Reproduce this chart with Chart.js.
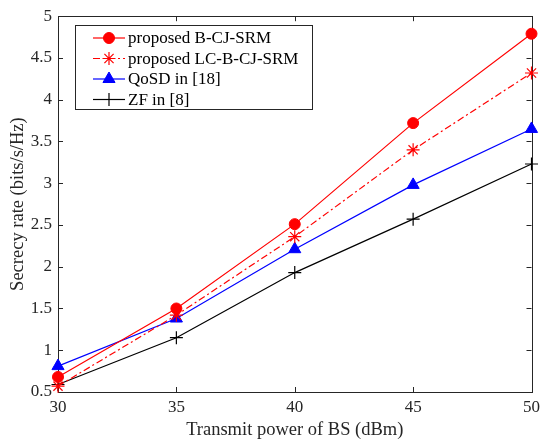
<!DOCTYPE html>
<html>
<head>
<meta charset="utf-8">
<script src="https://cdn.jsdelivr.net/npm/chart.js@4.4.1/dist/chart.umd.min.js"></script>
<style>
  html, body { margin: 0; padding: 0; background: #fff; }
  #wrap { width: 545px; height: 441px; }
</style>
</head>
<body>
<div id="wrap"><canvas id="chart" width="545" height="441"></canvas></div>
<script>
// data
const power = [30, 35, 40, 45, 50];
const bcjSrm = [0.68, 1.50, 2.51, 3.72, 4.79];
const lcBcjSrm = [0.57, 1.42, 2.36, 3.40, 4.32];
const qosd = [0.81, 1.38, 2.21, 2.98, 3.65];
const zf = [0.59, 1.15, 1.93, 2.57, 3.23];
const seriesNames = ["proposed B-CJ-SRM", "proposed LC-B-CJ-SRM", "QoSD in [18]", "ZF in [8]"];
const xTicks = [30, 35, 40, 45, 50];
const yTicks = [0.5, 1, 1.5, 2, 2.5, 3, 3.5, 4, 4.5, 5];

const SERIF = "'Liberation Serif', 'Times New Roman', serif";
const AXIS = "#262626";

function pts(vals) {
  return power.map((p, i) => ({ x: p, y: vals[i] }));
}

// ===============================
// BOX + INWARD TICKS
// ===============================
const boxPlugin = {
  id: "box",
  beforeDatasetsDraw(chart) {
    const ctx = chart.ctx;
    const a = chart.chartArea;
    const xs = chart.scales.x, ys = chart.scales.y;
    ctx.save();
    ctx.strokeStyle = AXIS;
    ctx.lineWidth = 1;
    ctx.beginPath();
    xTicks.forEach(v => {
      const px = Math.round(xs.getPixelForValue(v)) + 0.5;
      ctx.moveTo(px, a.bottom); ctx.lineTo(px, a.bottom - 5);
      ctx.moveTo(px, a.top); ctx.lineTo(px, a.top + 5);
    });
    yTicks.forEach(v => {
      const py = Math.round(ys.getPixelForValue(v)) + 0.5;
      ctx.moveTo(a.left, py); ctx.lineTo(a.left + 5, py);
      ctx.moveTo(a.right, py); ctx.lineTo(a.right - 5, py);
    });
    ctx.stroke();
    ctx.strokeRect(Math.round(a.left) + 0.5, Math.round(a.top) + 0.5,
      Math.round(a.right - a.left), Math.round(a.bottom - a.top));
    ctx.restore();
  }
};

// ===============================
// LEGEND (MATLAB style, line + marker)
// ===============================
const legendPlugin = {
  id: "matlabLegend",
  afterDraw(chart) {
    const ctx = chart.ctx;
    const bx = 75.5, by = 25.5, bw = 237, bh = 84;
    ctx.save();
    ctx.fillStyle = "#fff";
    ctx.fillRect(bx, by, bw, bh);
    ctx.strokeStyle = AXIS;
    ctx.lineWidth = 1;
    ctx.strokeRect(bx, by, bw, bh);
    chart.data.datasets.forEach((ds, i) => {
      const y = 38 + i * 20.5;
      ctx.strokeStyle = ds.borderColor;
      ctx.lineWidth = ds.borderWidth;
      ctx.setLineDash(ds.borderDash || []);
      ctx.beginPath();
      ctx.moveTo(93, y); ctx.lineTo(125, y);
      ctx.stroke();
      ctx.setLineDash([]);
      ctx.fillStyle = ds.pointBackgroundColor;
      ctx.strokeStyle = ds.pointBorderColor;
      ctx.lineWidth = ds.pointBorderWidth || 1;
      Chart.helpers.drawPoint(ctx, {
        pointStyle: ds.pointStyle,
        radius: ds.pointRadius,
        rotation: 0,
        borderWidth: ds.pointBorderWidth || 1
      }, 109, y);
      ctx.fillStyle = "#000";
      ctx.font = "17px " + SERIF;
      ctx.textBaseline = "middle";
      ctx.textAlign = "left";
      ctx.fillText(ds.label, 128, y + 1);
    });
    ctx.restore();
  }
};

new Chart(document.getElementById("chart"), {
  type: "line",
  data: {
    datasets: [
      {
        label: seriesNames[0], data: pts(bcjSrm),
        borderColor: "#ff0000", borderWidth: 1.2,
        pointStyle: "circle", pointRadius: 5.5,
        pointBackgroundColor: "#ff0000", pointBorderColor: "#ff0000", pointBorderWidth: 1
      },
      {
        label: seriesNames[1], data: pts(lcBcjSrm),
        borderColor: "#ff0000", borderWidth: 1.2, borderDash: [7, 3, 2, 3],
        pointStyle: "star", pointRadius: 6.5,
        pointBackgroundColor: "#ff0000", pointBorderColor: "#ff0000", pointBorderWidth: 1.2
      },
      {
        label: seriesNames[2], data: pts(qosd),
        borderColor: "#0000ff", borderWidth: 1.2,
        pointStyle: "triangle", pointRadius: 7,
        pointBackgroundColor: "#0000ff", pointBorderColor: "#0000ff", pointBorderWidth: 1
      },
      {
        label: seriesNames[3], data: pts(zf),
        borderColor: "#000000", borderWidth: 1.2,
        pointStyle: "cross", pointRadius: 6.5,
        pointBackgroundColor: "#000000", pointBorderColor: "#000000", pointBorderWidth: 1.2
      }
    ]
  },
  options: {
    responsive: false,
    animation: false,
    devicePixelRatio: 1,
    layout: { padding: { left: 0, top: 14, right: 8, bottom: 0 } },
    elements: { line: { tension: 0 } },
    datasets: { line: { clip: false } },
    plugins: {
      legend: { display: false },
      tooltip: { enabled: false }
    },
    scales: {
      x: {
        type: "linear",
        min: 30, max: 50,
        afterFit: s => { s.height = 49; },
        afterBuildTicks: s => { s.ticks = xTicks.map(v => ({ value: v })); },
        grid: { display: false, drawTicks: false },
        border: { display: false },
        ticks: {
          padding: 5,
          color: AXIS,
          font: { family: SERIF, size: 17 },
          maxRotation: 0
        },
        title: {
          display: true,
          text: "Transmit power of BS (dBm)",
          color: AXIS,
          font: { family: SERIF, size: 18.5 },
          padding: { top: 2, bottom: 0 }
        }
      },
      y: {
        type: "linear",
        min: 0.5, max: 5,
        afterFit: s => { s.width = 58; },
        afterBuildTicks: s => { s.ticks = yTicks.map(v => ({ value: v })); },
        grid: { display: false, drawTicks: false },
        border: { display: false },
        ticks: {
          padding: 6,
          color: AXIS,
          font: { family: SERIF, size: 17 },
          callback: v => String(v)
        },
        title: {
          display: true,
          text: "Secrecy rate (bits/s/Hz)",
          color: AXIS,
          font: { family: SERIF, size: 18.5 },
          padding: { top: 7, bottom: 0 }
        }
      }
    }
  },
  plugins: [boxPlugin, legendPlugin]
});
</script>
</body>
</html>
